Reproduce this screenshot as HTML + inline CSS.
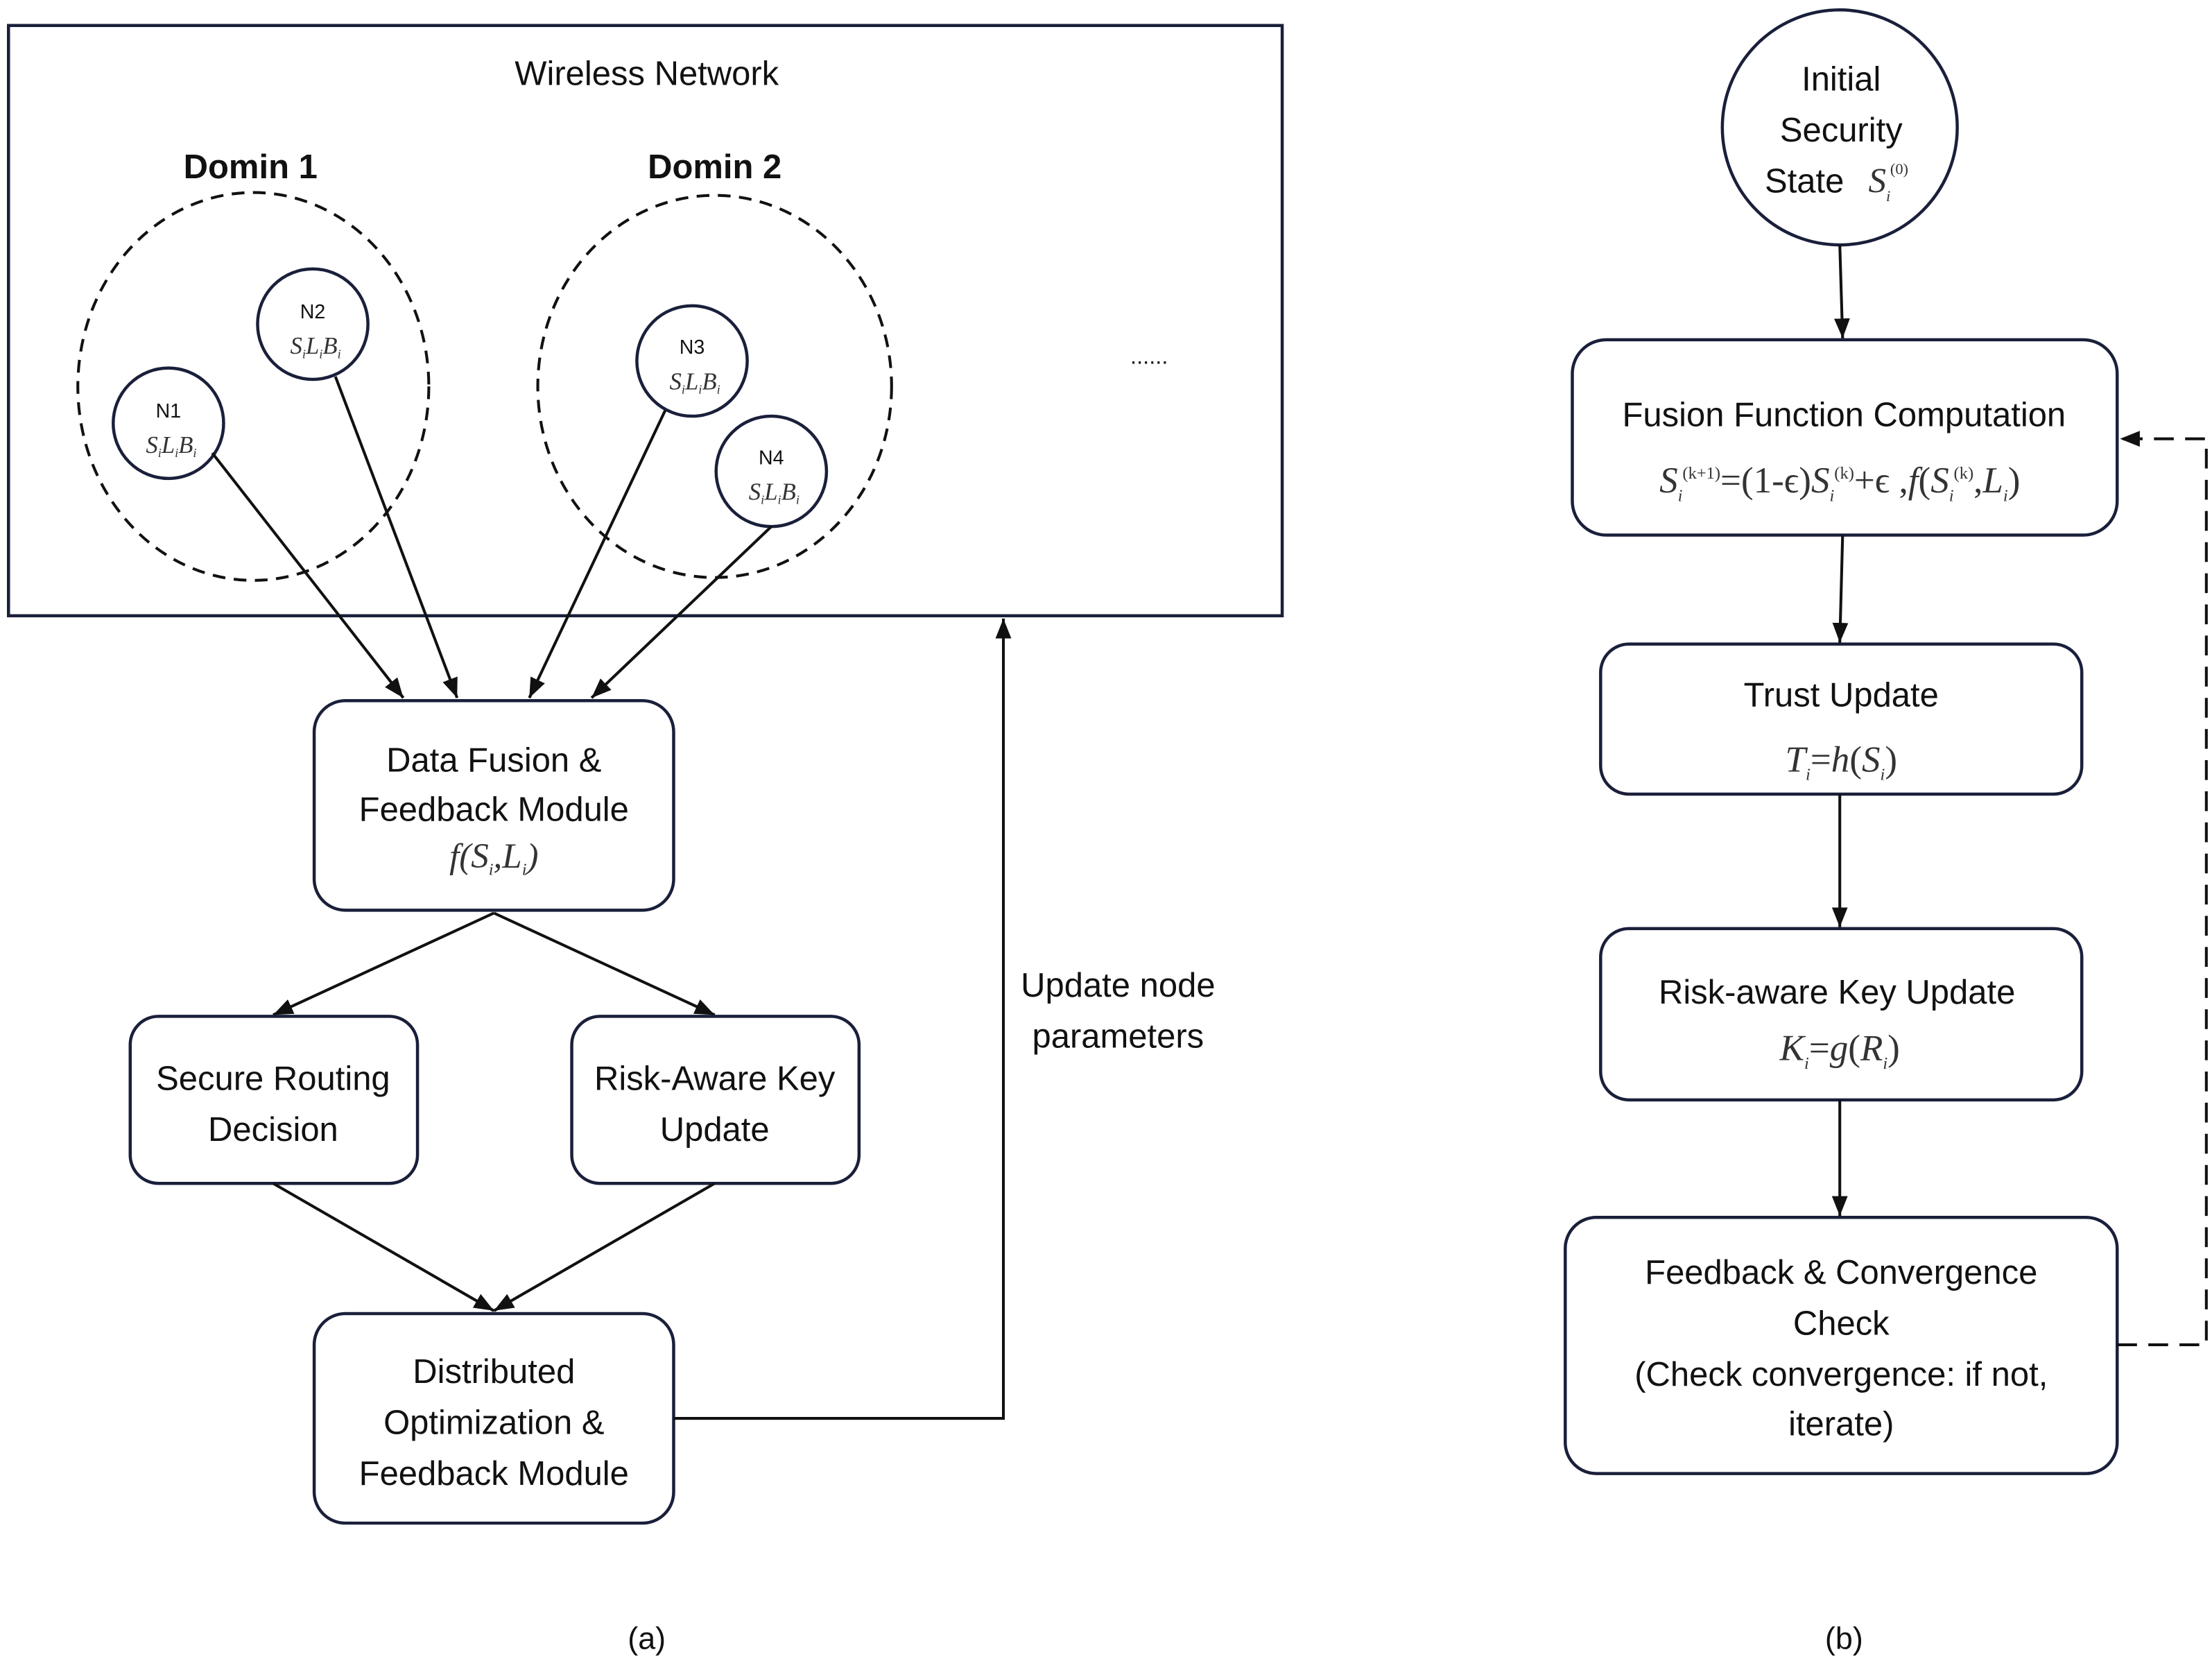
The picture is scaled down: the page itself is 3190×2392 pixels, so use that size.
<!DOCTYPE html>
<html><head><style>
html,body{margin:0;padding:0;background:#fff}
svg{display:block}
.t{font-family:"Liberation Sans",sans-serif;font-size:24px;fill:#111;text-anchor:middle}
.m{font-family:"Liberation Serif",serif;font-style:italic;fill:#333;text-anchor:middle}
.b{fill:#fff;stroke:#1a1f3a;stroke-width:2.2}
.l{stroke:#111;stroke-width:2;fill:none}
</style></head><body>
<svg width="3190" height="2392" viewBox="0 0 1563 1172" xmlns="http://www.w3.org/2000/svg">
<defs>
<marker id="A" viewBox="0 0 10 10" refX="10" refY="5" markerWidth="14" markerHeight="14" orient="auto" markerUnits="userSpaceOnUse">
<path d="M0,1L10,5L0,9z" fill="#111"/></marker>
</defs>
<rect x="0" y="0" width="1563" height="1172" fill="#fff"/>
<rect x="6" y="18" width="900" height="417" fill="none" stroke="#1a1f3a" stroke-width="2.2"/>
<text class="t" x="457" y="60">Wireless Network</text>
<text class="t" x="177" y="126" style="font-weight:bold">Domin 1</text>
<text class="t" x="505" y="126" style="font-weight:bold">Domin 2</text>
<ellipse cx="179" cy="273" rx="124" ry="137" fill="none" stroke="#111" stroke-width="2" stroke-dasharray="9,6"/>
<ellipse cx="505" cy="273" rx="125" ry="135" fill="none" stroke="#111" stroke-width="2" stroke-dasharray="9,6"/>
<g>
<circle class="b" cx="119" cy="299" r="39" stroke="#111"/>
<text class="t" x="119" y="295" style="font-size:14px">N1</text>
<text class="m" x="121" y="320" style="font-size:17px">S<tspan font-size="9" dy="3">i</tspan><tspan dy="-3">L</tspan><tspan font-size="9" dy="3">i</tspan><tspan dy="-3">B</tspan><tspan font-size="9" dy="3">i</tspan></text>
<circle class="b" cx="221" cy="229" r="39" stroke="#111"/>
<text class="t" x="221" y="225" style="font-size:14px">N2</text>
<text class="m" x="223" y="250" style="font-size:17px">S<tspan font-size="9" dy="3">i</tspan><tspan dy="-3">L</tspan><tspan font-size="9" dy="3">i</tspan><tspan dy="-3">B</tspan><tspan font-size="9" dy="3">i</tspan></text>
<circle class="b" cx="489" cy="255" r="39" stroke="#111"/>
<text class="t" x="489" y="250" style="font-size:14px">N3</text>
<text class="m" x="491" y="275" style="font-size:17px">S<tspan font-size="9" dy="3">i</tspan><tspan dy="-3">L</tspan><tspan font-size="9" dy="3">i</tspan><tspan dy="-3">B</tspan><tspan font-size="9" dy="3">i</tspan></text>
<circle class="b" cx="545" cy="333" r="39" stroke="#111"/>
<text class="t" x="545" y="328" style="font-size:14px">N4</text>
<text class="m" x="547" y="353" style="font-size:17px">S<tspan font-size="9" dy="3">i</tspan><tspan dy="-3">L</tspan><tspan font-size="9" dy="3">i</tspan><tspan dy="-3">B</tspan><tspan font-size="9" dy="3">i</tspan></text>
</g>
<text class="t" x="812" y="257" style="font-size:16px">......</text>
<line class="l" x1="150" y1="320" x2="285" y2="493" marker-end="url(#A)"/>
<line class="l" x1="237" y1="266" x2="323" y2="493" marker-end="url(#A)"/>
<line class="l" x1="470" y1="290" x2="374" y2="493" marker-end="url(#A)"/>
<line class="l" x1="545" y1="372" x2="418" y2="493" marker-end="url(#A)"/>
<rect class="b" x="222" y="495" width="254" height="148" rx="22"/>
<text class="t" x="349" y="545">Data Fusion &amp;</text>
<text class="t" x="349" y="580">Feedback Module</text>
<text class="m" x="349" y="613" style="font-size:25px">f(S<tspan font-size="12" dy="5">i</tspan><tspan dy="-5">,L</tspan><tspan font-size="12" dy="5">i</tspan><tspan dy="-5">)</tspan></text>
<line class="l" x1="349" y1="645" x2="193" y2="717" marker-end="url(#A)"/>
<line class="l" x1="349" y1="645" x2="505" y2="717" marker-end="url(#A)"/>
<rect class="b" x="92" y="718" width="203" height="118" rx="20"/>
<text class="t" x="193" y="770">Secure Routing</text>
<text class="t" x="193" y="806">Decision</text>
<rect class="b" x="404" y="718" width="203" height="118" rx="20"/>
<text class="t" x="505" y="770">Risk-Aware Key</text>
<text class="t" x="505" y="806">Update</text>
<line class="l" x1="193" y1="836" x2="349" y2="926" marker-end="url(#A)"/>
<line class="l" x1="505" y1="836" x2="349" y2="926" marker-end="url(#A)"/>
<rect class="b" x="222" y="928" width="254" height="148" rx="22"/>
<text class="t" x="349" y="977">Distributed</text>
<text class="t" x="349" y="1013">Optimization &amp;</text>
<text class="t" x="349" y="1049">Feedback Module</text>
<polyline class="l" points="476,1002 709,1002 709,437" marker-end="url(#A)"/>
<text class="t" x="790" y="704">Update node</text>
<text class="t" x="790" y="740">parameters</text>
<text class="t" x="457" y="1165" style="font-size:22px">(a)</text>
<text class="t" x="1303" y="1165" style="font-size:22px">(b)</text>
<circle class="b" cx="1300" cy="90" r="83"/>
<text class="t" x="1301" y="64">Initial</text>
<text class="t" x="1301" y="100">Security</text>
<text class="t" x="1275" y="136">State</text>
<text class="m" x="1328" y="136" style="font-size:25px">S<tspan font-size="11" dy="6">i</tspan></text>
<text class="m" x="1342" y="123" style="font-size:11px;font-style:normal">(0)</text>
<line class="l" x1="1300" y1="173" x2="1302" y2="239" marker-end="url(#A)"/>
<rect class="b" x="1111" y="240" width="385" height="138" rx="24"/>
<text class="t" x="1303" y="301">Fusion Function Computation</text>
<text class="m" x="1300" y="348" style="font-size:26px">S<tspan font-size="12" dy="6">i</tspan><tspan font-size="12" dy="-16" font-style="normal">(k+1)</tspan><tspan dy="10" font-style="normal">=(1-ϵ)</tspan>S<tspan font-size="12" dy="6">i</tspan><tspan font-size="12" dy="-16" font-style="normal">(k)</tspan><tspan dy="10" font-style="normal">+ϵ  ,</tspan>f<tspan font-style="normal">(</tspan>S<tspan font-size="12" dy="6">i</tspan><tspan font-size="12" dy="-16" font-style="normal">(k)</tspan><tspan dy="10" font-style="normal">,</tspan>L<tspan font-size="12" dy="6">i</tspan><tspan dy="-6" font-style="normal">)</tspan></text>
<line class="l" x1="1302" y1="378" x2="1300" y2="454" marker-end="url(#A)"/>
<rect class="b" x="1131" y="455" width="340" height="106" rx="20"/>
<text class="t" x="1301" y="499">Trust Update</text>
<text class="m" x="1301" y="545" style="font-size:26px">T<tspan font-size="12" dy="6">i</tspan><tspan dy="-6" font-style="normal">=</tspan>h<tspan font-style="normal">(</tspan>S<tspan font-size="12" dy="6">i</tspan><tspan dy="-6" font-style="normal">)</tspan></text>
<line class="l" x1="1300" y1="561" x2="1300" y2="655" marker-end="url(#A)"/>
<rect class="b" x="1131" y="656" width="340" height="121" rx="20"/>
<text class="t" x="1298" y="709">Risk-aware Key Update</text>
<text class="m" x="1300" y="749" style="font-size:26px">K<tspan font-size="12" dy="6">i</tspan><tspan dy="-6" font-style="normal">=</tspan>g<tspan font-style="normal">(</tspan>R<tspan font-size="12" dy="6">i</tspan><tspan dy="-6" font-style="normal">)</tspan></text>
<line class="l" x1="1300" y1="777" x2="1300" y2="859" marker-end="url(#A)"/>
<rect class="b" x="1106" y="860" width="390" height="181" rx="22"/>
<text class="t" x="1301" y="907">Feedback &amp; Convergence</text>
<text class="t" x="1301" y="943">Check</text>
<text class="t" x="1301" y="979">(Check convergence: if not,</text>
<text class="t" x="1301" y="1014">iterate)</text>
<polyline points="1496,950 1559,950 1559,310 1498,310" fill="none" stroke="#111" stroke-width="2" stroke-dasharray="14,8" marker-end="url(#A)"/>
</svg>
</body></html>
